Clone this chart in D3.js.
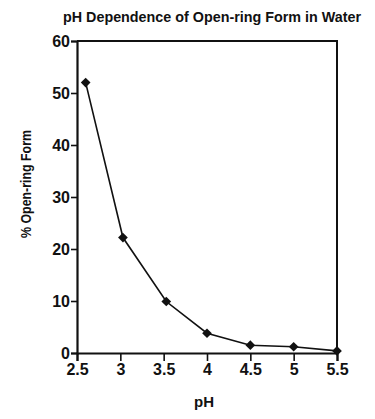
<!DOCTYPE html>
<html>
<head>
<meta charset="utf-8">
<script src="https://cdn.jsdelivr.net/npm/d3@7"></script>
<style>
  body { margin: 0; background: #fff; }
  text { font-family: "Liberation Sans", Arial, sans-serif; font-weight: bold; fill: #111; }
</style>
</head>
<body>
<div id="chart"></div>
<script>
var phValues = [2.6, 3.03, 3.53, 4.0, 4.5, 5.0, 5.5];
var openRing = [52, 22.2, 9.9, 3.8, 1.5, 1.2, 0.4];
var xTicks = [2.5, 3, 3.5, 4, 4.5, 5, 5.5];
var yTicks = [0, 10, 20, 30, 40, 50, 60];

var w = 375, h = 419;
var padL = 77, padR = 337, padT = 41, padB = 353;

var svg = d3.select('#chart').append('svg')
  .attr('width', w).attr('height', h);

var x = d3.scaleLinear().domain([2.5, 5.5]).range([padL, padR]);
var y = d3.scaleLinear().domain([0, 60]).range([padB, padT]);

// frame top + right
svg.append('path')
  .attr('d', 'M' + padL + ',' + padT + 'H' + padR + 'V' + padB)
  .attr('fill', 'none').attr('stroke', '#111').attr('stroke-width', 2);

var xAxis = svg.append('g')
  .attr('transform', 'translate(0,' + padB + ')')
  .call(d3.axisBottom(x).tickValues(xTicks).tickSize(8).tickPadding(2)
    .tickFormat(function(d) { return d; }));
xAxis.selectAll('text').attr('font-size', '16px').attr('dy', '0.75em');

var yAxis = svg.append('g')
  .attr('transform', 'translate(' + padL + ',0)')
  .call(d3.axisLeft(y).tickValues(yTicks).tickSize(6).tickPadding(1));
yAxis.selectAll('text').attr('font-size', '16px');

svg.selectAll('.domain').attr('stroke-width', 2.2).attr('stroke', '#111');
svg.selectAll('.tick line').attr('stroke-width', 1.6).attr('stroke', '#111');
svg.selectAll('.tick text').style('font-family', '"Liberation Sans", Arial, sans-serif')
  .style('font-weight', 'bold').attr('fill', '#111');

var pts = phValues.map(function(d, i) { return [d, openRing[i]]; });

svg.append('path')
  .datum(pts)
  .attr('fill', 'none').attr('stroke', '#111').attr('stroke-width', 1.6)
  .attr('d', d3.line()
    .x(function(d) { return x(d[0]); })
    .y(function(d) { return y(d[1]); }));

svg.selectAll('path.mark')
  .data(pts)
  .enter()
  .append('path')
  .attr('class', 'mark')
  .attr('d', d3.symbol().type(d3.symbolDiamond2).size(60))
  .attr('transform', function(d) {
    return 'translate(' + x(d[0]) + ',' + y(d[1]) + ')';
  })
  .attr('fill', '#111');

svg.append('text')
  .text('pH Dependence of Open-ring Form in Water')
  .attr('x', 212).attr('y', 22)
  .attr('text-anchor', 'middle')
  .attr('font-size', '14px')
  .attr('textLength', 298).attr('lengthAdjust', 'spacingAndGlyphs');

svg.append('text')
  .text('pH')
  .attr('x', 204).attr('y', 407)
  .attr('text-anchor', 'middle')
  .attr('font-size', '15px');

svg.append('text')
  .text('% Open-ring Form')
  .attr('transform', 'translate(31,184) rotate(-90)')
  .attr('text-anchor', 'middle')
  .attr('font-size', '15px')
  .attr('textLength', 108).attr('lengthAdjust', 'spacingAndGlyphs');
</script>
</body>
</html>
